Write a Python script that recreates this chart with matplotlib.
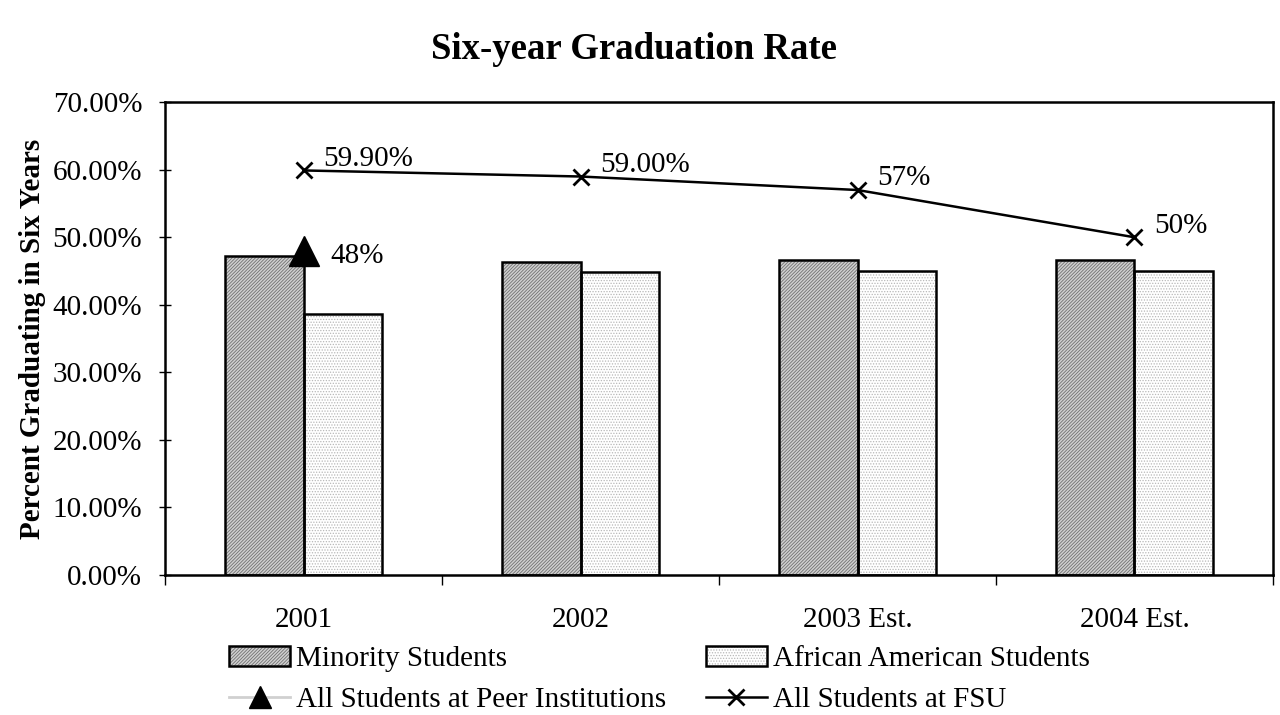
import numpy as np
import matplotlib
matplotlib.use("Agg")
import matplotlib.pyplot as plt
from matplotlib.lines import Line2D
from matplotlib.ticker import FuncFormatter, FixedLocator

plt.rcParams['font.family'] = ['Liberation Serif', 'DejaVu Serif']
plt.rcParams['hatch.linewidth'] = 0.6

# data
years = ["2001", "2002", "2003 Est.", "2004 Est."]
minority = [47.3, 46.3, 46.6, 46.6]
african_american = [38.6, 44.8, 45.0, 45.0]
fsu_all = [59.9, 59.0, 57.0, 50.0]
fsu_labels = ["59.90%", "59.00%", "57%", "50%"]
peer_all = [48.0]
peer_labels = ["48%"]

FS = 21

fig = plt.figure(figsize=(12.8, 7.15), dpi=100)
ax = fig.add_axes([0.129, 0.196, 0.8655, 0.661])

x = np.arange(len(years))
w = 0.283

# hatch fill first, black outline on top
m_fill = ax.bar(x - w / 2, minority, w, color='#d0d0d0', edgecolor='#707070',
                hatch='//////////', linewidth=0, zorder=2)
m_edge = ax.bar(x - w / 2, minority, w, fill=False, edgecolor='black',
                linewidth=1.8, zorder=3)
a_fill = ax.bar(x + w / 2, african_american, w, color='white', edgecolor='#b8b8b8',
                hatch='......', linewidth=0, zorder=2)
a_edge = ax.bar(x + w / 2, african_american, w, fill=False, edgecolor='black',
                linewidth=1.8, zorder=3)

fsu_line, = ax.plot(x, fsu_all, color='black', lw=1.8, marker='x', ms=11, mew=2, zorder=4)
ax.plot(x[:len(peer_all)], peer_all, color='#d0d0d0', lw=1.8, marker='^',
        ms=21, mfc='black', mec='black', zorder=4)

for xi, yi, lab in zip(x, fsu_all, fsu_labels):
    ax.annotate(lab, (xi, yi), xytext=(14, -1), textcoords='offset points',
                fontsize=FS, ha='left', va='bottom')
for xi, yi, lab in zip(x, peer_all, peer_labels):
    ax.annotate(lab, (xi, yi), xytext=(19, -4), textcoords='offset points',
                fontsize=FS, ha='left', va='center')

ax.set_xlim(-0.5, len(years) - 0.5)
ax.set_ylim(0, 70)
ax.set_yticks(np.arange(0, 71, 10))
ax.yaxis.set_major_formatter(FuncFormatter(lambda v, p: f"{v:.2f}%"))
ax.set_xticks(x)
ax.set_xticklabels(years)
ax.xaxis.set_minor_locator(FixedLocator(np.arange(-0.5, len(years), 1.0)))
ax.tick_params(axis='x', which='major', length=0, pad=23, labelsize=FS)
ax.tick_params(axis='x', which='minor', length=7, width=1, direction='out')
ax.tick_params(axis='y', length=9, width=1, direction='inout', labelsize=FS, pad=12)
for s in ax.spines.values():
    s.set_linewidth(1.8)

ax.set_ylabel("Percent Graduating in Six Years", fontsize=FS, fontweight='bold', labelpad=5)
fig.text(0.495, 0.931, "Six-year Graduation Rate", ha='center', va='center',
         fontsize=26.5, fontweight='bold')

peer_handle = Line2D([], [], color='#d0d0d0', lw=2, marker='^', ms=16,
                     mfc='black', mec='black')
handles = [(m_fill[0], m_edge[0]), peer_handle, (a_fill[0], a_edge[0]), fsu_line]
labels = ["Minority Students", "All Students at Peer Institutions",
          "African American Students", "All Students at FSU"]
fig.legend(handles, labels, ncol=2, loc='center', bbox_to_anchor=(0.515, 0.05),
           frameon=False, fontsize=FS, handlelength=2.1, handletextpad=0.2,
           columnspacing=1.35, labelspacing=0.5, borderaxespad=0)

fig.savefig("out.png", dpi=100)
